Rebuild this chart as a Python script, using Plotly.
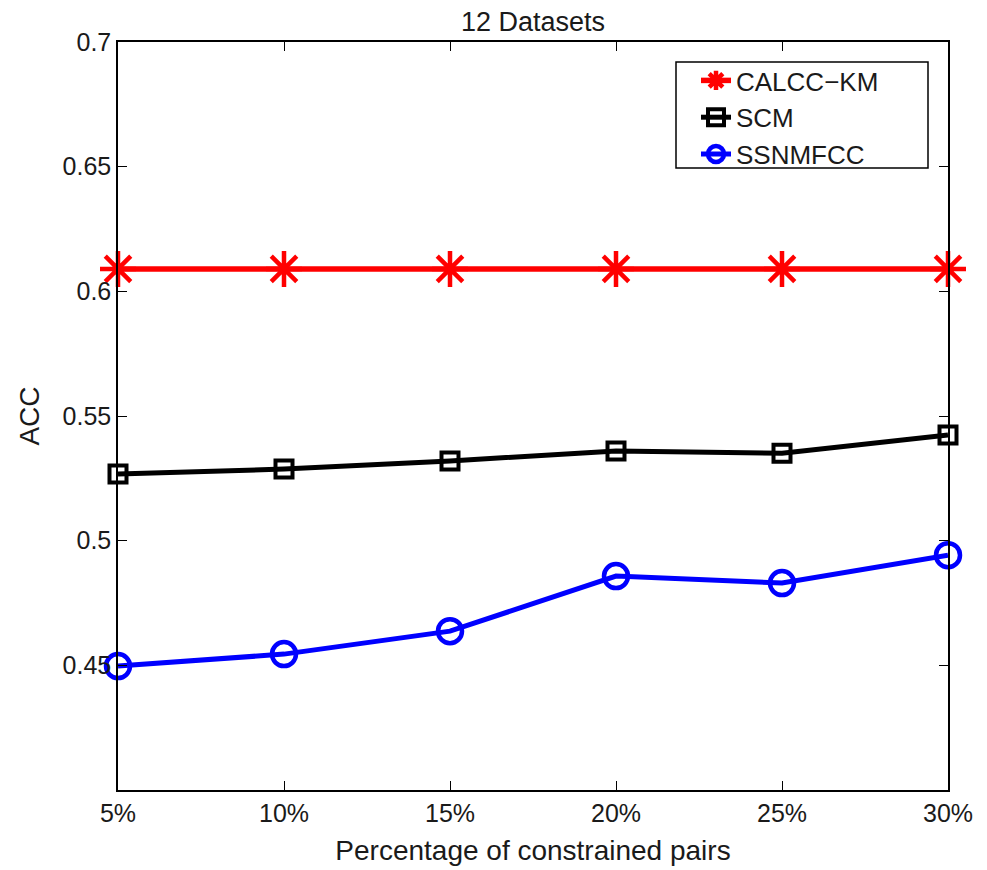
import plotly.graph_objects as go

x_vals = [5, 10, 15, 20, 25, 30]
x_labels = ["5%", "10%", "15%", "20%", "25%", "30%"]
calcc_km = [0.609, 0.609, 0.609, 0.609, 0.609, 0.609]
scm = [0.5267, 0.5287, 0.5320, 0.5360, 0.5351, 0.5424]
ssnmfcc = [0.4497, 0.4545, 0.4637, 0.4858, 0.4830, 0.4942]
y_ticks = [0.45, 0.5, 0.55, 0.6, 0.65, 0.7]
y_labels = ["0.45", "0.5", "0.55", "0.6", "0.65", "0.7"]

fig = go.Figure()
fig.add_trace(go.Scatter(x=x_vals, y=calcc_km, name="CALCC\u2212KM", mode="lines+markers",
                         line=dict(color="#ff0000", width=5.5),
                         marker=dict(symbol="asterisk-open", size=30, color="#ff0000",
                                     line=dict(color="#ff0000", width=4.5)),
                         cliponaxis=False))
fig.add_trace(go.Scatter(x=x_vals, y=scm, name="SCM", mode="lines+markers",
                         line=dict(color="#000000", width=5),
                         marker=dict(symbol="square-open", size=17, color="#000000",
                                     line=dict(color="#000000", width=4)),
                         cliponaxis=False))
fig.add_trace(go.Scatter(x=x_vals, y=ssnmfcc, name="SSNMFCC", mode="lines+markers",
                         line=dict(color="#0000ff", width=5),
                         marker=dict(symbol="circle-open", size=24, color="#0000ff",
                                     line=dict(color="#0000ff", width=4.5)),
                         cliponaxis=False))

# legend frame (px -> paper coords of the plot area 118..948 x 42..790)
L, R, T, B = 118, 948, 42, 790
def px_x(p):
    return (p - L) / (R - L)
def px_y(p):
    return (B - p) / (B - T)

fig.add_shape(type="rect", xref="paper", yref="paper",
              x0=px_x(676), x1=px_x(928), y0=px_y(168), y1=px_y(62),
              line=dict(color="#000000", width=1.5), fillcolor="white", layer="below")

font_family = "Liberation Sans, Arial, sans-serif"
fig.update_layout(
    width=987, height=870,
    margin=dict(l=118, r=39, t=42, b=80, autoexpand=False),
    paper_bgcolor="white", plot_bgcolor="white",
    font=dict(family=font_family, size=25, color="#1a1a1a"),
    title=dict(text="12 Datasets", x=(118 + 948) / 2 / 987, xanchor="center",
               y=1 - 22 / 870, yanchor="middle", font=dict(size=27)),
    showlegend=True,
    legend=dict(x=px_x(696), y=px_y(57), xanchor="left", yanchor="top",
                borderwidth=0, bgcolor="rgba(0,0,0,0)",
                font=dict(size=26), tracegroupgap=0, itemsizing="trace"),
    xaxis=dict(range=[5, 30], tickvals=x_vals, ticktext=x_labels, automargin=False,
               showgrid=False, zeroline=False, showline=True, linecolor="#000000",
               linewidth=1.5, mirror="ticks", ticks="inside", ticklen=9,
               tickcolor="#000000", tickfont=dict(size=25),
               title=dict(text="Percentage of constrained pairs", font=dict(size=28))),
    yaxis=dict(range=[0.4, 0.7], tickvals=y_ticks, ticktext=y_labels, automargin=False,
               showgrid=False, zeroline=False, showline=True, linecolor="#000000",
               linewidth=1.5, mirror="ticks", ticks="inside", ticklen=9,
               tickcolor="#000000", tickfont=dict(size=25),
               title=dict(text="ACC", font=dict(size=28))),
)

fig.write_html("out.html")
